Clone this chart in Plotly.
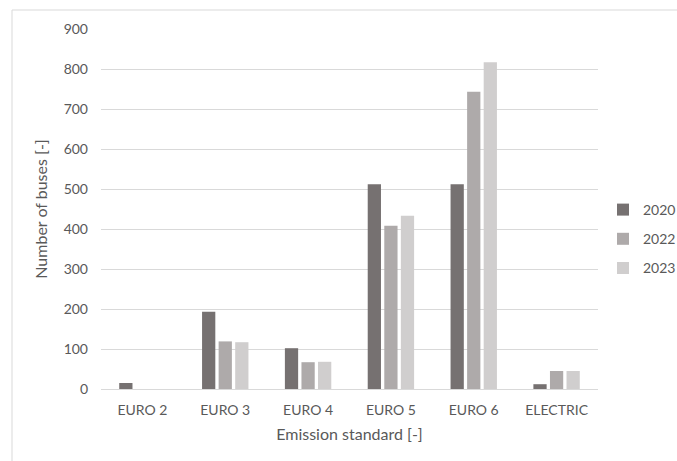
import plotly.graph_objects as go

# Registered buses by emission standard
categories = ["EURO 2", "EURO 3", "EURO 4", "EURO 5", "EURO 6", "ELECTRIC"]
years = ["2020", "2022", "2023"]
buses_2020 = [15, 193, 102, 512, 512, 12]
buses_2022 = [0, 119, 67, 408, 743, 45]
buses_2023 = [0, 117, 68, 433, 817, 45]
y_ticks = [0, 100, 200, 300, 400, 500, 600, 700, 800, 900]

series = [buses_2020, buses_2022, buses_2023]
colors = ["#767171", "#AEAAAA", "#D0CECE"]

W, H = 677, 461
L, R, T, B = 101, 79, 29, 72
font = "Lato, 'Open Sans', sans-serif"
text_col = "#595959"

fig = go.Figure()
for name, vals, col in zip(years, series, colors):
    fig.add_trace(go.Bar(
        x=categories, y=vals, name=name, legendgroup=name,
        marker=dict(color=col, line=dict(width=0)),
    ))

pw = W - L - R
ph = H - T - B
# light frame around the chart area
fig.add_shape(type="line", xref="paper", yref="paper",
              x0=(12 - L) / pw, x1=(12 - L) / pw,
              y0=(H - B - 10) / ph, y1=(H - B - 470) / ph,
              line=dict(color="#D9D9D9", width=1))
fig.add_shape(type="line", xref="paper", yref="paper",
              x0=(12 - L) / pw, x1=(690 - L) / pw,
              y0=(H - B - 10) / ph, y1=(H - B - 10) / ph,
              line=dict(color="#D9D9D9", width=1))

fig.update_layout(
    width=W, height=H,
    margin=dict(l=L, r=R, t=T, b=B, autoexpand=False),
    paper_bgcolor="white", plot_bgcolor="white",
    barmode="group", bargap=0.4, bargroupgap=0.2,
    font=dict(family=font, size=14, color=text_col),
    showlegend=True,
    legend=dict(x=(603 - L) / pw, y=(H - B - 239) / ph, xanchor="left", yanchor="middle",
                font=dict(size=14, color=text_col),
                itemwidth=30, tracegroupgap=8),
    xaxis=dict(
        title=dict(text="Emission standard [-]", font=dict(size=16, color=text_col), standoff=12),
        showgrid=False, showline=True, linecolor="#D9D9D9", linewidth=1,
        ticks="", tickfont=dict(size=14, color=text_col), ticklabelstandoff=8,
    ),
    yaxis=dict(
        title=dict(text="Number of buses [-]", font=dict(size=16, color=text_col), standoff=12),
        range=[0, 900], tickvals=y_ticks, ticks="",
        showgrid=True, gridcolor="#D9D9D9", gridwidth=1,
        zeroline=False, showline=False,
        tickfont=dict(size=14, color=text_col), ticklabelstandoff=12,
    ),
)

fig.write_html("out.html")
